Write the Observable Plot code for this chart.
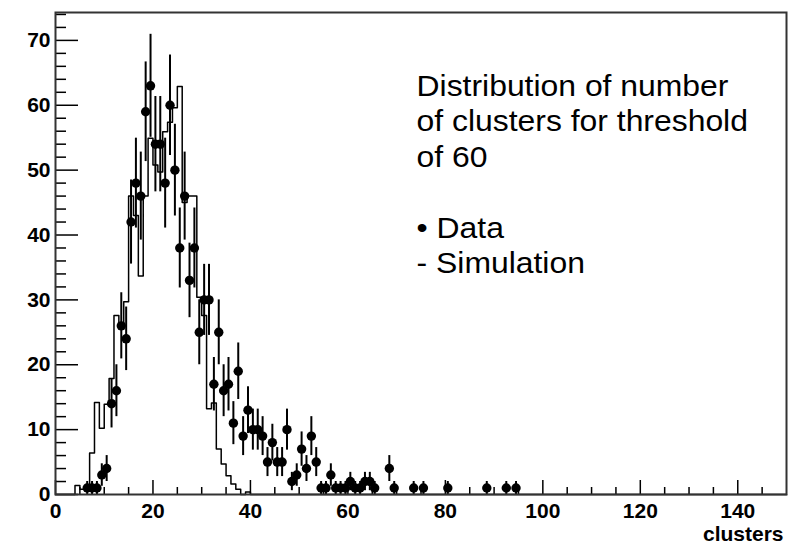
<!DOCTYPE html>
<html><head><meta charset="utf-8">
<script src="https://cdn.jsdelivr.net/npm/d3@7"></script>
<script src="https://cdn.jsdelivr.net/npm/@observablehq/plot@0.6"></script>
<style>
html,body{margin:0;padding:0;background:#fff;}
svg{display:block;}
</style>
</head><body><div id="chart"></div>
<script>
// Data points (bin centres) and counts
const dataX = [6.5,7.5,8.5,9.5,10.5,11.5,12.5,13.5,14.5,15.5,16.5,17.5,18.5,19.5,20.5,21.5,22.5,23.5,24.5,25.5,26.5,27.5,28.5,29.5,30.5,31.5,32.5,33.5,34.5,35.5,36.5,37.5,38.5,39.5,40.5,41.5,42.5,43.5,44.5,45.5,46.5,47.5,48.5,49.5,50.5,51.5,52.5,53.5,54.5,55.5,56.5,57.5,58.5,59.5,60.5,61.5,62.5,63.5,64.5,65.5,68.5,69.5,73.5,75.5,80.5,88.5,92.5,94.5];
const dataY = [1,1,1,3,4,14,16,26,24,42,48,46,59,63,54,54,48,60,50,38,46,33,38,25,30,30,17,25,16,17,11,19,9,13,10,10,9,5,8,5,5,10,2,3,7,4,9,5,1,1,3,1,1,1,2,1,1,2,2,1,4,1,1,1,1,1,1,1];

// Simulation histogram: first non-empty bin edge and bin contents (bin width 1)
const simStart = 4;
const simY = [1.4,0.8,1.4,6.4,14.2,10.2,13.9,17.9,27.6,25.7,29.7,46,43,33.7,46,54.9,50.8,49.7,55.9,57.4,59.6,62.9,45,46,46,30.4,27.6,13.2,14.1,7.0,4.7,2.9,1.6,0.8,0,0.4];

// Axes
const xDomain = [0, 150];
const yDomain = [0, 74.3];
const xMajor = [0,20,40,60,80,100,120,140];
const xMinor = [5,10,15,25,30,35,45,50,55,65,70,75,85,90,95,105,110,115,125,130,135,145];
const yMajor = [0,10,20,30,40,50,60,70];
const yMinor = [2,4,6,8,12,14,16,18,22,24,26,28,32,34,36,38,42,44,46,48,52,54,56,58,62,64,66,68,72,74];
const xLabel = "clusters";
const noteLines = ["Distribution of number","of clusters for threshold","of 60","","\u2022 Data","- Simulation"];

const W = 795, H = 544;
const mL = 55, mR = 9, mT = 12, mB = 50;
const plotW = W - mL - mR, plotH = H - mT - mB;

const points = dataX.map((x, i) => ({x, y: dataY[i]}));
const sim = [{x: xDomain[0], y: 0}]
  .concat(simY.map((y, i) => ({x: simStart + i, y})))
  .concat([{x: simStart + simY.length, y: 0}, {x: xDomain[1], y: 0}]);

const font = "'Liberation Sans', Arial, Helvetica, sans-serif";

const chart = Plot.plot({
  width: W, height: H,
  marginLeft: mL, marginRight: mR, marginTop: mT, marginBottom: mB,
  style: {fontFamily: font, fontSize: "21px", fontWeight: "bold", background: "#fff", color: "#000"},
  x: {domain: xDomain, ticks: xMajor, tickSize: 0, tickPadding: 9, tickFormat: d => String(d), label: null},
  y: {domain: yDomain, ticks: yMajor, tickSize: 0, tickPadding: 5, tickFormat: d => String(d), label: null},
  marks: [
    Plot.line(sim, {x: "x", y: "y", curve: "step-after", stroke: "#000", strokeWidth: 1.5}),
    Plot.ruleX(points, {x: "x", y1: d => d.y - Math.sqrt(d.y), y2: d => d.y + Math.sqrt(d.y), stroke: "#000", strokeWidth: 2}),
    Plot.dot(points, {x: "x", y: "y", r: 4.7, fill: "#000", stroke: "none"}),
    Plot.tickX(xMajor, {x: d => d, insetTop: plotH - 14, stroke: "#000", strokeWidth: 1.5}),
    Plot.tickX(xMinor, {x: d => d, insetTop: plotH - 7, stroke: "#000", strokeWidth: 1.5}),
    Plot.tickY(yMajor, {y: d => d, insetRight: plotW - 23, stroke: "#000", strokeWidth: 1.5}),
    Plot.tickY(yMinor, {y: d => d, insetRight: plotW - 11, stroke: "#000", strokeWidth: 1.5}),
    Plot.frame({stroke: "#333", strokeWidth: 2}),
    Plot.text([xLabel], {text: d => d, frameAnchor: "bottom-right", textAnchor: "end", lineAnchor: "middle", dx: -3, dy: 40, fontSize: 21, fontWeight: "bold", fill: "#000"}),
    Plot.text([noteLines.join("\n")], {text: d => d, frameAnchor: "top-left", textAnchor: "start", lineAnchor: "top", dx: 361, dy: 58, fontSize: 29, lineHeight: 1.224, fontWeight: "normal", fill: "#000"})
  ]
});

document.getElementById("chart").appendChild(chart);

// slight horizontal stretch of the annotation, as in the original rendering
const noteText = Array.from(chart.querySelectorAll("text")).find(t => t.textContent.includes("Distribution"));
if (noteText) {
  const g = noteText.parentNode;
  const x0 = mL + 361;
  const wrap = document.createElementNS("http://www.w3.org/2000/svg", "g");
  wrap.setAttribute("transform", `translate(${x0},0) scale(1.1,1) translate(${-x0},0)`);
  g.parentNode.insertBefore(wrap, g);
  wrap.appendChild(g);
}
</script>
</body></html>
